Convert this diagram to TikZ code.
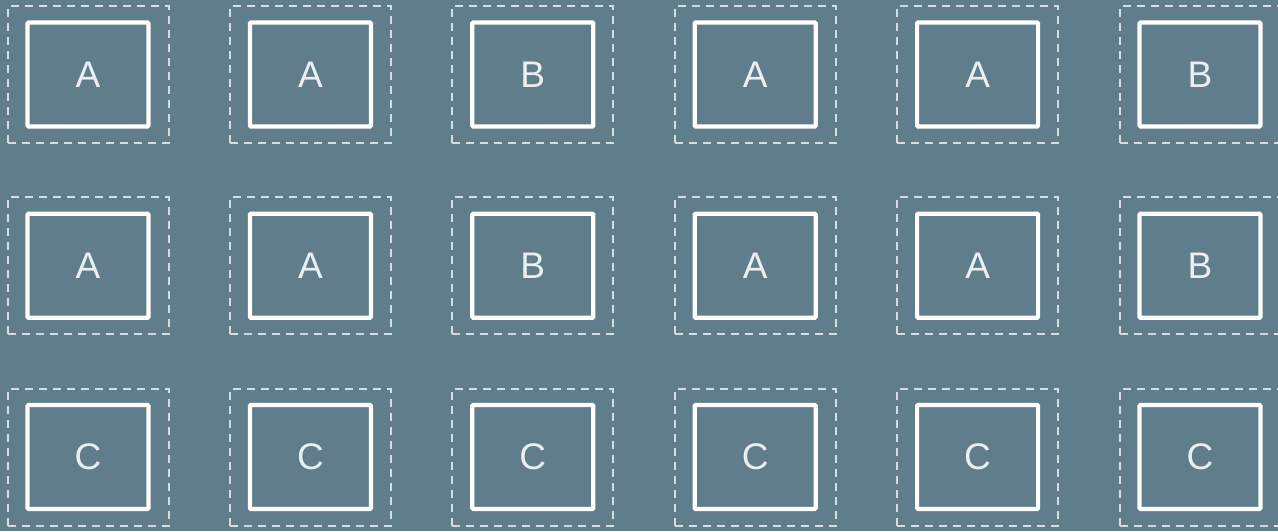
\documentclass[tikz,border=0pt]{standalone}
\usepackage{fontspec}
\setmainfont{Liberation Sans}
\definecolor{slate}{RGB}{96,125,139}
\definecolor{dashgrey}{RGB}{214,221,224}
\definecolor{lettergrey}{RGB}{236,239,241}
\begin{document}
\begin{tikzpicture}[x=1pt, y=-1pt,
    cellbox/.style={draw=white, line width=4.2pt, rounded corners=1pt, inner sep=0pt,
      minimum width=121pt, minimum height=104pt, text=lettergrey,
      font=\fontsize{37}{37}\selectfont},
    cellframe/.style={draw=dashgrey, line width=2pt, dash pattern=on 8pt off 6pt,
      inner sep=0pt, minimum width=161pt, minimum height=137pt}]
  \fill[slate] (0,0) rectangle (1278,531);
  \useasboundingbox (0,0) rectangle (1278,531);
  % rows 1 and 2
  \foreach \r in {1,2} {
    \foreach \c/\lbl in {1/A, 2/A, 3/B, 4/A, 5/A, 6/B} {
      \node[cellbox] (box-\r-\c) at ({88+222.4*(\c-1)}, {74.5+191.25*(\r-1)}) {\lbl};
      \node[cellframe] (frame-\r-\c) at (box-\r-\c.center) {};
    }
  }
  % row 3
  \foreach \c in {1,...,6} {
    \node[cellbox] (box-3-\c) at ({88+222.4*(\c-1)}, 457) {C};
    \node[cellframe] (frame-3-\c) at (box-3-\c.center) {};
  }
\end{tikzpicture}
\end{document}
